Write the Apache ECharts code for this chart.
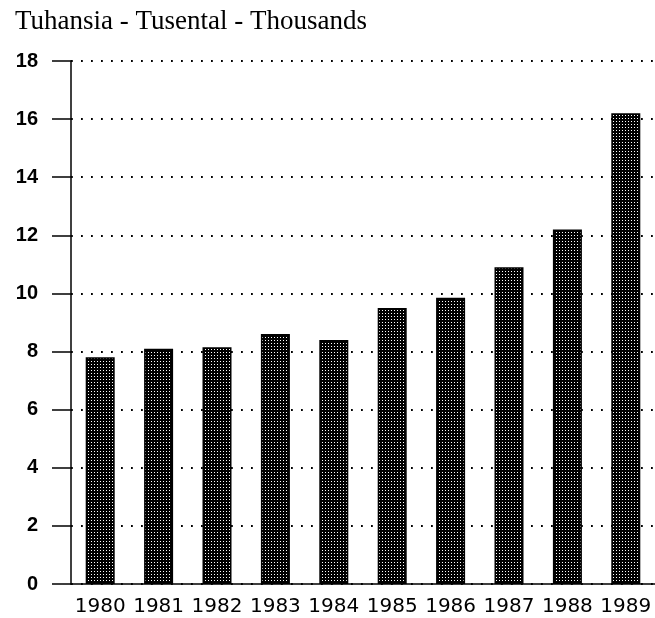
<!DOCTYPE html>
<html><head><meta charset="utf-8">
<script src="https://cdn.jsdelivr.net/npm/echarts@6/dist/echarts.min.js"></script>
<style>html,body{margin:0;padding:0;background:#fff}#c{width:655px;height:618px}</style>
</head><body><div id="c"></div>
<script>
const titleText = 'Tuhansia - Tusental - Thousands';
const years = ['1980','1981','1982','1983','1984','1985','1986','1987','1988','1989'];
const values = [7.8, 8.1, 8.15, 8.6, 8.4, 9.5, 9.85, 10.9, 12.2, 16.2];
const yMin = 0, yMax = 18, yStep = 2;

// stipple pattern for bar fill
const pc = document.createElement('canvas');
pc.width = 3; pc.height = 3;
const px = pc.getContext('2d');
px.fillStyle = '#000'; px.fillRect(0, 0, 3, 3);
px.fillStyle = '#fff';
px.fillRect(1, 1, 1, 1);

const chart = echarts.init(document.getElementById('c'), null, {renderer: 'canvas'});
chart.setOption({
  animation: false,
  backgroundColor: '#fff',
  title: {
    text: titleText, left: 10, top: 3,
    textStyle: {fontFamily: 'Liberation Serif', fontSize: 27, fontWeight: 'normal', color: '#000'}
  },
  grid: {left: 71, top: 61, width: 587, height: 523, containLabel: false},
  xAxis: {
    type: 'category', data: years,
    axisLine: {show: true, lineStyle: {color: '#000', width: 1.5}},
    axisTick: {show: false},
    axisLabel: {margin: 13, color: '#000', fontFamily: 'DejaVu Sans', fontSize: 20, interval: 0}
  },
  yAxis: {
    type: 'value', min: yMin, max: yMax, interval: yStep,
    axisLine: {show: true, lineStyle: {color: '#000', width: 1.5}},
    axisTick: {show: true, inside: false, length: 19, lineStyle: {color: '#000', width: 1.5}},
    axisLabel: {margin: 33, color: '#000', fontFamily: 'Liberation Sans', fontWeight: 'bold', fontSize: 20},
    splitLine: {show: true, lineStyle: {color: '#000', width: 1.8, type: [1.8, 8.2], dashOffset: 0}}
  },
  series: [{
    type: 'bar', data: values, barWidth: 29,
    itemStyle: {color: {image: pc, repeat: 'repeat'}, borderColor: '#000', borderWidth: 1.5}
  }]
});
</script>
</body></html>
